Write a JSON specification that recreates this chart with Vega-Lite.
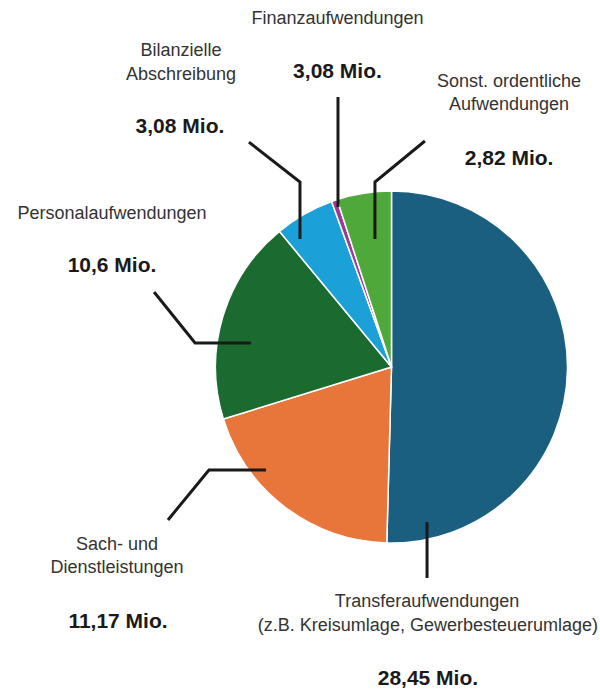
{
  "$schema": "https://vega.github.io/schema/vega-lite/v6.json",
  "width": 600,
  "height": 691,
  "padding": 0,
  "autosize": {"type": "fit", "contains": "padding"},
  "background": "white",
  "config": {"view": {"stroke": null}},
  "datasets": {
    "slices": [
      {"category": "Transferaufwendungen", "value": 28.45, "order": 1},
      {"category": "Sach- und Dienstleistungen", "value": 11.17, "order": 2},
      {"category": "Personalaufwendungen", "value": 10.6, "order": 3},
      {"category": "Bilanzielle Abschreibung", "value": 3.08, "order": 4},
      {"category": "Finanzaufwendungen", "value": 0.3, "order": 5},
      {"category": "Sonst. ordentliche Aufwendungen", "value": 2.82, "order": 6}
    ],
    "leaders": [
      {"line": "Personal", "step": 1, "x": -134.9, "y": 42.6},
      {"line": "Personal", "step": 2, "x": -111.6, "y": 13.6},
      {"line": "Personal", "step": 3, "x": -79.8, "y": 13.6},
      {"line": "Sach", "step": 1, "x": -127.0, "y": -86.9},
      {"line": "Sach", "step": 2, "x": -103.7, "y": -58.5},
      {"line": "Sach", "step": 3, "x": -71.3, "y": -58.5},
      {"line": "Transfer", "step": 1, "x": 20.2, "y": -88.1},
      {"line": "Transfer", "step": 2, "x": 20.2, "y": -119.9},
      {"line": "Bilanz", "step": 1, "x": -81.0, "y": 127.8},
      {"line": "Bilanz", "step": 2, "x": -52.0, "y": 105.1},
      {"line": "Bilanz", "step": 3, "x": -52.0, "y": 72.7},
      {"line": "Finanz", "step": 1, "x": -30.4, "y": 153.4},
      {"line": "Finanz", "step": 2, "x": -30.4, "y": 90.9},
      {"line": "Sonst", "step": 1, "x": 19.0, "y": 128.4},
      {"line": "Sonst", "step": 2, "x": -9.4, "y": 105.1},
      {"line": "Sonst", "step": 3, "x": -9.4, "y": 72.7}
    ],
    "names": [
      {"text": "Finanzaufwendungen", "x": -30.7, "y": 197.7},
      {"text": "Bilanzielle", "x": -119.6, "y": 179.5},
      {"text": "Abschreibung", "x": -119.6, "y": 165.9},
      {"text": "Sonst. ordentliche", "x": 66.8, "y": 161.9},
      {"text": "Aufwendungen", "x": 66.8, "y": 148.9},
      {"text": "Personalaufwendungen", "x": -158.8, "y": 86.9},
      {"text": "Sach- und", "x": -156.0, "y": -101.1},
      {"text": "Dienstleistungen", "x": -156.0, "y": -114.2},
      {"text": "Transferaufwendungen", "x": 20.2, "y": -133.5},
      {"text": "(z.B. Kreisumlage, Gewerbesteuerumlage)", "x": 20.7, "y": -147.2}
    ],
    "amounts": [
      {"text": "3,08 Mio.", "x": -30.7, "y": 167.6},
      {"text": "3,08 Mio.", "x": -120.2, "y": 136.4},
      {"text": "2,82 Mio.", "x": 66.8, "y": 118.2},
      {"text": "10,6 Mio.", "x": -158.8, "y": 57.4},
      {"text": "11,17 Mio.", "x": -155.4, "y": -144.9},
      {"text": "28,45 Mio.", "x": 20.7, "y": -177.3}
    ]
  },
  "layer": [
    {
      "data": {"name": "slices"},
      "mark": {"type": "arc", "radius": 176, "stroke": "white", "strokeWidth": 1.5},
      "encoding": {
        "x": {"datum": 0, "type": "quantitative", "scale": {"domain": [-222.44, 118.47], "nice": false, "zero": false}, "axis": null},
        "y": {"datum": 0, "type": "quantitative", "scale": {"domain": [-184.09, 208.52], "nice": false, "zero": false}, "axis": null},
        "theta": {"field": "value", "type": "quantitative", "stack": true},
        "order": {"field": "order", "type": "quantitative"},
        "color": {
          "field": "category",
          "type": "nominal",
          "legend": null,
          "scale": {
            "domain": ["Transferaufwendungen", "Sach- und Dienstleistungen", "Personalaufwendungen", "Bilanzielle Abschreibung", "Finanzaufwendungen", "Sonst. ordentliche Aufwendungen"],
            "range": ["#1b5f80", "#e8763a", "#1b6b30", "#1ca0d8", "#9a3a96", "#4ea83a"]
          }
        }
      }
    },
    {
      "data": {"name": "leaders"},
      "mark": {"type": "line", "color": "#1a1a1a", "strokeWidth": 3, "strokeJoin": "miter", "strokeCap": "butt"},
      "encoding": {
        "x": {"field": "x", "type": "quantitative", "scale": {"domain": [-222.44, 118.47], "nice": false, "zero": false}, "axis": null},
        "y": {"field": "y", "type": "quantitative", "scale": {"domain": [-184.09, 208.52], "nice": false, "zero": false}, "axis": null},
        "detail": {"field": "line", "type": "nominal"},
        "order": {"field": "step", "type": "quantitative"}
      }
    },
    {
      "data": {"name": "names"},
      "mark": {"type": "text", "font": "Liberation Sans", "fontSize": 18, "color": "#333333", "align": "center", "baseline": "middle"},
      "encoding": {
        "x": {"field": "x", "type": "quantitative", "scale": {"domain": [-222.44, 118.47], "nice": false, "zero": false}, "axis": null},
        "y": {"field": "y", "type": "quantitative", "scale": {"domain": [-184.09, 208.52], "nice": false, "zero": false}, "axis": null},
        "text": {"field": "text", "type": "nominal"}
      }
    },
    {
      "data": {"name": "amounts"},
      "mark": {"type": "text", "font": "Liberation Sans", "fontSize": 21, "fontWeight": "bold", "color": "#1a1a1a", "align": "center", "baseline": "middle"},
      "encoding": {
        "x": {"field": "x", "type": "quantitative", "scale": {"domain": [-222.44, 118.47], "nice": false, "zero": false}, "axis": null},
        "y": {"field": "y", "type": "quantitative", "scale": {"domain": [-184.09, 208.52], "nice": false, "zero": false}, "axis": null},
        "text": {"field": "text", "type": "nominal"}
      }
    }
  ]
}
